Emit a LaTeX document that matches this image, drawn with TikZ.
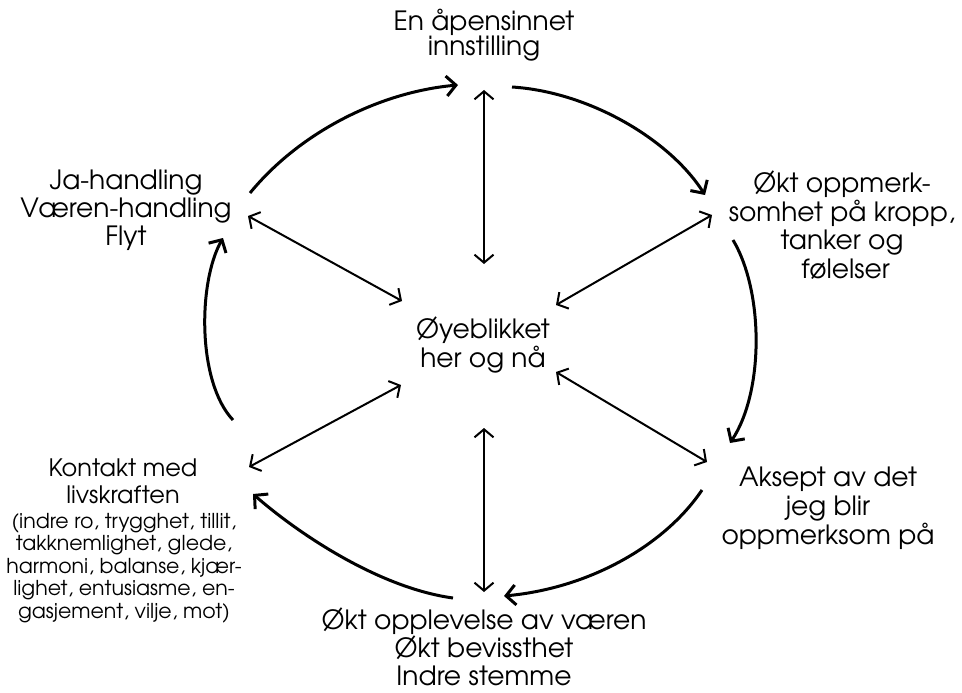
\documentclass[tikz,border=0pt]{standalone}
\usepackage{fontspec}
\setmainfont{texgyreadventor}[Extension=.otf,UprightFont=*-regular,BoldFont=*-bold]
\usetikzlibrary{arrows.meta}
\begin{document}
\begin{tikzpicture}[x=1pt,y=-1pt,
  lbl/.style={align=center,font=\fontsize{26.5}{28}\selectfont,inner sep=0pt},
  mid/.style={align=center,font=\fontsize{24}{27}\selectfont,inner sep=0pt},
  small/.style={align=center,font=\fontsize{20.5}{22.6}\selectfont,inner sep=0pt},
  cyc/.style={line width=3pt,-{Straight Barb[length=9.5pt,width=20pt,line width=3pt]}},
  dbl/.style={line width=2pt,{Straight Barb[length=8pt,width=19pt,line width=2pt]}-{Straight Barb[length=8pt,width=19pt,line width=2pt]}}]
\useasboundingbox (0,0) rectangle (962,693);
% texts
\node[lbl,font=\fontsize{26.5}{25}\selectfont] (top) at (484,35) {En åpensinnet\\innstilling};
\node[lbl,font=\fontsize{26.5}{28.5}\selectfont] (ctr) at (483,345) {Øyeblikket\\her og nå};
\node[lbl,font=\fontsize{26.5}{28.5}\selectfont] (rt) at (842,225) {Økt oppmerk-\\somhet på kropp,\\tanker og\\\ følelser};
\node[lbl,font=\fontsize{26.5}{29}\selectfont] (rb) at (828,508) {Aksept av det\\jeg blir\\oppmerksom på};
\node[lbl,font=\fontsize{26.5}{28}\selectfont] (bot) at (484,647) {Økt opplevelse av væren\\Økt bevissthet\\Indre stemme};
\node[lbl] (lt) at (126,210) {Ja-handling\\Væren-handling\\Flyt};
\node[mid] (lb) at (123,481) {Kontakt med\\livskraften};
\node[small] (lbs) at (124,568) {(indre ro, trygghet, tillit,\\takknemlighet, glede,\\harmoni, balanse, kjær-\\lighet, entusiasme, en-\\gasjement, vilje, mot)};
% connector end points
\coordinate (c1s) at (250,193); \coordinate (c1e) at (458,85);
\coordinate (c2s) at (512,87);  \coordinate (c2e) at (705,195);
\coordinate (c3s) at (733,240); \coordinate (c3e) at (730,443);
\coordinate (c4s) at (702,490); \coordinate (c4e) at (504,596);
\coordinate (c5s) at (453,598); \coordinate (c5e) at (253,494);
\coordinate (c6s) at (233,420); \coordinate (c6e) at (223,238);
% cycle arcs
\draw[cyc] (c1s) .. controls (300,132) and (380,92) .. (c1e);
\draw[cyc] (c2s) .. controls (590,92) and (670,140) .. (c2e);
\draw[cyc] (c3s) .. controls (764,292) and (764,392) .. (c3e);
\draw[cyc] (c4s) .. controls (665,545) and (590,588) .. (c4e);
\draw[cyc] (c5s) .. controls (380,588) and (300,535) .. (c5e);
\draw[cyc] (c6s) .. controls (197,382) and (198,282) .. (c6e);
% double arrows
\coordinate (d1a) at (484,90);  \coordinate (d1b) at (484,264);
\coordinate (d2a) at (248,216); \coordinate (d2b) at (402,301);
\coordinate (d3a) at (712,215); \coordinate (d3b) at (556,305);
\coordinate (d4a) at (556,372); \coordinate (d4b) at (707,462);
\coordinate (d5a) at (401,385); \coordinate (d5b) at (249,467);
\coordinate (d6a) at (484,428); \coordinate (d6b) at (484,592);
\draw[dbl] (d1a) -- (d1b);
\draw[dbl] (d2a) -- (d2b);
\draw[dbl] (d3a) -- (d3b);
\draw[dbl] (d4a) -- (d4b);
\draw[dbl] (d5a) -- (d5b);
\draw[dbl] (d6a) -- (d6b);
\end{tikzpicture}
\end{document}
